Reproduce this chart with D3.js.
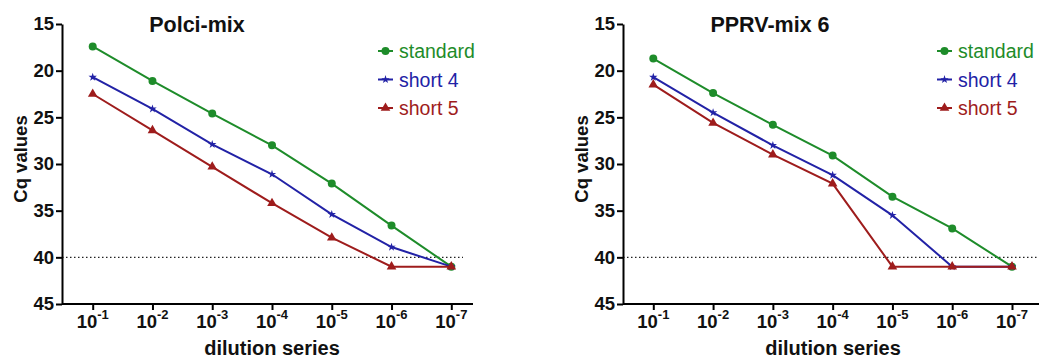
<!DOCTYPE html>
<html>
<head>
<meta charset="utf-8">
<script src="https://cdn.jsdelivr.net/npm/d3@7"></script>
<style>
  body { margin: 0; background: #fff; }
  svg { display: block; font-family: 'Liberation Sans', Arial, sans-serif; }
</style>
</head>
<body>
<svg id="chart" width="1039" height="360"></svg>
<script>
// dilution steps (exponent of 10)
const dilutions = [-1, -2, -3, -4, -5, -6, -7];
const seriesNames = ['standard', 'short 4', 'short 5'];
const yTicks = [15, 20, 25, 30, 35, 40, 45];
const cutoff = 40;

// Cq values
const polciStandard = [17.4, 21.1, 24.6, 28.0, 32.1, 36.6, 41.0];
const polciShort4 = [20.7, 24.1, 27.9, 31.1, 35.4, 38.9, 41.0];
const polciShort5 = [22.5, 26.4, 30.3, 34.2, 37.9, 41.0, 41.0];

const pprvStandard = [18.7, 22.4, 25.8, 29.1, 33.5, 36.9, 41.0];
const pprvShort4 = [20.7, 24.5, 28.0, 31.2, 35.5, 41.0, 41.0];
const pprvShort5 = [21.5, 25.6, 29.0, 32.1, 41.0, 41.0, 41.0];

const colors = ['#1e8c2a', '#2222a6', '#9e1c1c'];
const symbols = [d3.symbolCircle, d3.symbolStar, d3.symbolTriangle];
const symbolSizes = [50, 22, 40];

const panels = [
  { title: 'Polci-mix', left: 62, right: 473, first: 92.7, last: 451.3, dotEnd: 463, legendX: 378, titleX: 197, series: [polciStandard, polciShort4, polciShort5] },
  { title: 'PPRV-mix 6', left: 623, right: 1039, first: 653.3, last: 1012, dotEnd: 1039, legendX: 937, titleX: 770, series: [pprvStandard, pprvShort4, pprvShort5] },
];

const svg = d3.select('#chart');
const plotTop = 24;
const plotBottom = 304;

panels.forEach((p) => {
  const g = svg.append('g');

  const x = d3.scalePoint().domain(dilutions).range([p.first, p.last]);
  const y = d3.scaleLinear().domain([15, 45]).range([plotTop, plotBottom]);

  // cutoff line
  g.append('line')
    .attr('x1', p.left)
    .attr('x2', p.dotEnd)
    .attr('y1', y(cutoff))
    .attr('y2', y(cutoff))
    .attr('stroke', '#222')
    .attr('stroke-width', 1.2)
    .attr('stroke-dasharray', '1.5,2.5');

  // y axis
  const yAxis = g.append('g')
    .attr('transform', `translate(${p.left},0)`)
    .call(d3.axisLeft(y).tickValues(yTicks).tickSize(6).tickPadding(2).tickSizeOuter(0));
  yAxis.select('.domain').attr('stroke-width', 2).attr('stroke', '#000');
  yAxis.selectAll('.tick line').attr('stroke-width', 2);
  yAxis.selectAll('.tick text')
    .attr('font-size', 18.5)
    .attr('font-weight', 'bold')
    .attr('fill', '#111')
    .attr('font-family', "'Liberation Sans', Arial, sans-serif");

  // x axis
  const xAxis = g.append('g')
    .attr('transform', `translate(0,${plotBottom})`)
    .call(d3.axisBottom(x).tickSize(6).tickSizeOuter(0).tickFormat(''));
  xAxis.select('.domain')
    .attr('d', `M${p.left},0H${p.right}`)
    .attr('stroke-width', 2)
    .attr('stroke', '#000');
  xAxis.selectAll('.tick line').attr('stroke-width', 2);

  // tick labels with superscripts
  dilutions.forEach((d) => {
    const t = g.append('text')
      .attr('x', x(d))
      .attr('y', 328)
      .attr('text-anchor', 'middle')
      .attr('font-size', 18.5)
      .attr('font-weight', 'bold')
      .attr('fill', '#111');
    t.append('tspan').text('10');
    t.append('tspan').attr('dy', -9).attr('font-size', 13).text(d);
  });

  // axis titles
  g.append('text')
    .attr('x', p.left + 210)
    .attr('y', 355)
    .attr('text-anchor', 'middle')
    .attr('font-size', 20)
    .attr('font-weight', 'bold')
    .attr('fill', '#111')
    .text('dilution series');

  g.append('text')
    .attr('transform', `translate(${p.left - 35},159) rotate(-90)`)
    .attr('text-anchor', 'middle')
    .attr('font-size', 18.5)
    .attr('font-weight', 'bold')
    .attr('fill', '#111')
    .text('Cq values');

  // title
  g.append('text')
    .attr('x', p.titleX)
    .attr('y', 32)
    .attr('text-anchor', 'middle')
    .attr('font-size', 21.5)
    .attr('font-weight', 'bold')
    .attr('fill', '#111')
    .text(p.title);

  const line = d3.line()
    .x((d, i) => x(dilutions[i]))
    .y((d) => y(d));

  p.series.forEach((vals, si) => {
    g.append('path')
      .attr('d', line(vals))
      .attr('fill', 'none')
      .attr('stroke', colors[si])
      .attr('stroke-width', 2);

    g.selectAll(null)
      .data(vals)
      .join('path')
      .attr('transform', (d, i) => `translate(${x(dilutions[i])},${y(d)})`)
      .attr('d', d3.symbol().type(symbols[si]).size(symbolSizes[si]))
      .attr('fill', colors[si]);
  });

  // legend
  seriesNames.forEach((name, si) => {
    const ly = 51 + si * 28.5;
    g.append('line')
      .attr('x1', p.legendX)
      .attr('x2', p.legendX + 15)
      .attr('y1', ly)
      .attr('y2', ly)
      .attr('stroke', colors[si])
      .attr('stroke-width', 2);
    g.append('path')
      .attr('transform', `translate(${p.legendX + 7.5},${ly})`)
      .attr('d', d3.symbol().type(symbols[si]).size(symbolSizes[si]))
      .attr('fill', colors[si]);
    g.append('text')
      .attr('x', p.legendX + 21)
      .attr('y', ly + 7)
      .attr('font-size', 19.5)
      .attr('fill', colors[si])
      .text(name);
  });
});
</script>
</body>
</html>
